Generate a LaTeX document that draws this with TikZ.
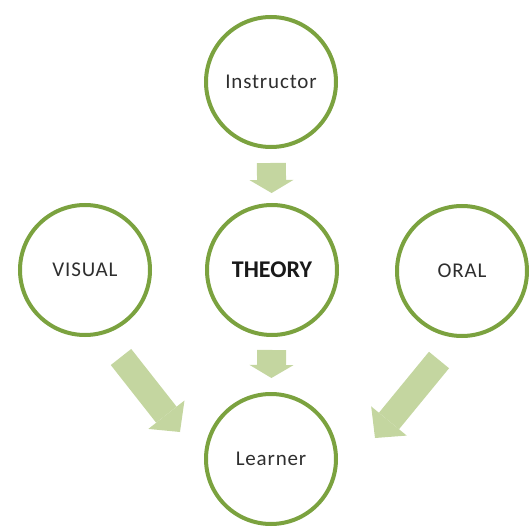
\documentclass[tikz,border=0pt]{standalone}
\usepackage{fontspec}
\setmainfont{Carlito}
\newfontfamily\labelfont[LetterSpace=4]{Carlito}
\usetikzlibrary{arrows.meta}
\definecolor{ringgreen}{HTML}{7BA23F}
\definecolor{arrowgreen}{HTML}{C4D6A0}
\definecolor{labelgray}{HTML}{2E2E2E}

\begin{document}
\begin{tikzpicture}[x=1pt, y=-1pt,
 ring/.style = {circle, draw=ringgreen, line width=4pt, minimum size=130pt,
   inner sep=0pt, text=labelgray, font=\labelfont\fontsize{21}{24}\selectfont},
 downarrow/.style = {draw=arrowgreen, line width=29pt,
   -{Triangle[length=13pt, width=44pt, line width=0pt]}},
 slantarrow/.style = {draw=arrowgreen, line width=26pt,
   -{Triangle[length=22pt, width=46pt, line width=0pt]}},]
 \useasboundingbox (0,0) rectangle (531,527);
 \node[ring] (instructor) at (271,82) {Instructor};
 \node[ring, text=black!90, font=\bfseries\fontsize{24}{28}\selectfont] (theory) at (272,270) {THEORY};
 \node[ring] (visual) at (85,270) {VISUAL};
 \node[ring] (oral) at (462,271) {ORAL};
 \node[ring] (learner) at (271,459) {Learner};
 \coordinate (visualtail) at (121,357);
 \coordinate (visualtip) at (180,432);
 \coordinate (oraltail) at (439,360);
 \coordinate (oraltip) at (375,438);
 \draw [downarrow, shorten <=14pt, shorten >=10pt] (instructor) to (theory);
 \draw [downarrow, shorten <=13pt, shorten >=14pt] (theory) to (learner);
 \draw [slantarrow] (visualtail) to (visualtip);
 \draw [slantarrow] (oraltail) to (oraltip);

\end{tikzpicture}
\end{document}
